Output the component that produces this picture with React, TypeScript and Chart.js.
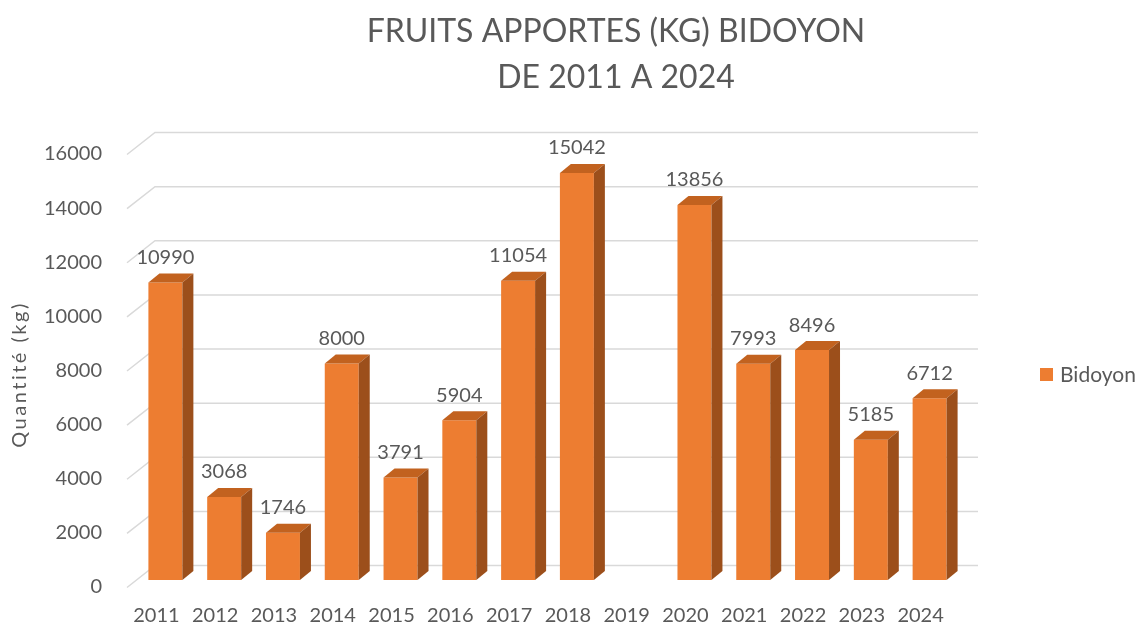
import React, { useEffect, useRef } from 'react';
import { Chart, registerables } from 'chart.js';

Chart.register(...registerables);

// ---- data ----
const categories = ['2011', '2012', '2013', '2014', '2015', '2016', '2017', '2018', '2019', '2020', '2021', '2022', '2023', '2024'];
const seriesName = 'Bidoyon';
const values: (number | null)[] = [10990, 3068, 1746, 8000, 3791, 5904, 11054, 15042, null, 13856, 7993, 8496, 5185, 6712];
const yMin = 0;
const yMax = 16000;
const yStep = 2000;
const titleLines = ['FRUITS APPORTES (KG) BIDOYON', 'DE 2011 A 2024'];
const yAxisTitle = 'Quantité (kg)';

// ---- style ----
const FONT = 'Lato, "Open Sans", sans-serif';
const TEXT = '#595959';
const FRONT = '#ED7D31';
const TOP = '#C2621F';
const SIDE = '#9C4F1B';
const GRID = '#D9D9D9';
const DX = 11;
const DY = -9;
const BACK_DX = 19;
const BACK_DY = -14.5;
const FRONT_DX = -9;
const FRONT_DY = 7.5;

const wallsPlugin = {
  id: 'walls3d',
  beforeDatasetsDraw(chart: any) {
    const { ctx, chartArea, scales } = chart;
    const y = scales.y;
    ctx.save();
    ctx.strokeStyle = GRID;
    ctx.lineWidth = 1.5;
    y.ticks.forEach((t: any) => {
      const py = y.getPixelForValue(t.value);
      ctx.beginPath();
      ctx.moveTo(chartArea.left + FRONT_DX, py + FRONT_DY);
      ctx.lineTo(chartArea.left + BACK_DX, py + BACK_DY);
      ctx.lineTo(chartArea.right + BACK_DX, py + BACK_DY);
      ctx.stroke();
    });
    ctx.restore();
  },
};

const bars3dPlugin = {
  id: 'bars3d',
  afterDatasetsDraw(chart: any) {
    const { ctx } = chart;
    const meta = chart.getDatasetMeta(0);
    ctx.save();
    meta.data.forEach((bar: any, i: number) => {
      const v = values[i];
      if (v === null || v === undefined) return;
      const { x, y, base, width } = bar.getProps(['x', 'y', 'base', 'width'], true);
      const l = x - width / 2;
      const r = x + width / 2;
      ctx.fillStyle = TOP;
      ctx.beginPath();
      ctx.moveTo(l, y);
      ctx.lineTo(l + DX, y + DY);
      ctx.lineTo(r + DX, y + DY);
      ctx.lineTo(r, y);
      ctx.closePath();
      ctx.fill();
      ctx.fillStyle = SIDE;
      ctx.beginPath();
      ctx.moveTo(r, y);
      ctx.lineTo(r + DX, y + DY);
      ctx.lineTo(r + DX, base + DY);
      ctx.lineTo(r, base);
      ctx.closePath();
      ctx.fill();
      ctx.fillStyle = TEXT;
      ctx.font = `20px ${FONT}`;
      ctx.textAlign = 'center';
      ctx.textBaseline = 'middle';
      ctx.fillText(String(v), x, y - 25);
    });
    ctx.restore();
  },
};

const decorPlugin = {
  id: 'decor',
  afterDraw(chart: any) {
    const { ctx, chartArea } = chart;
    ctx.save();
    ctx.fillStyle = TEXT;
    ctx.font = `32px ${FONT}`;
    ctx.textAlign = 'center';
    ctx.textBaseline = 'middle';
    ctx.fillText(titleLines[0], 616, 32);
    ctx.fillText(titleLines[1], 616, 78);
    // legend
    ctx.fillStyle = FRONT;
    ctx.fillRect(1040, 368, 13, 13);
    ctx.fillStyle = TEXT;
    ctx.font = `21px ${FONT}`;
    ctx.textAlign = 'left';
    ctx.fillText(seriesName, 1060, 375);
    ctx.restore();
    // y-axis title
    ctx.save();
    ctx.translate(20, (chartArea.top + chartArea.bottom) / 2 + 11);
    ctx.rotate(-Math.PI / 2);
    ctx.fillStyle = TEXT;
    ctx.font = `20px ${FONT}`;
    (ctx as any).letterSpacing = '2.5px';
    ctx.textAlign = 'center';
    ctx.textBaseline = 'middle';
    ctx.fillText(yAxisTitle, 0, 0);
    ctx.restore();
  },
};

export default function App() {
  const ref = useRef<HTMLCanvasElement | null>(null);
  useEffect(() => {
    if (!ref.current) return;
    const chart = new Chart(ref.current, {
      type: 'bar',
      data: {
        labels: categories,
        datasets: [
          {
            label: seriesName,
            data: values,
            backgroundColor: FRONT,
            borderWidth: 0,
            categoryPercentage: 1,
            barPercentage: 0.578,
          },
        ],
      },
      options: {
        responsive: false,
        animation: false,
        layout: { padding: { left: 0, top: 147, right: 183, bottom: 0 } },
        plugins: {
          legend: { display: false },
          title: { display: false },
          tooltip: { enabled: false },
        },
        scales: {
          x: {
            type: 'category',
            offset: true,
            grid: { display: false, drawTicks: false },
            border: { display: false },
            ticks: {
              color: TEXT,
              font: { family: FONT, size: 20 },
              padding: 24,
              labelOffset: -9,
              maxRotation: 0,
              autoSkip: false,
            },
            afterFit: (s: any) => {
              s.height = 45;
            },
          },
          y: {
            min: yMin,
            max: yMax,
            grid: { display: false, drawTicks: false },
            border: { display: false },
            ticks: {
              stepSize: yStep,
              color: TEXT,
              font: { family: FONT, size: 20 },
              padding: 34,
              labelOffset: 7,
              callback: (v: any) => String(v),
            },
            afterFit: (s: any) => {
              s.width = 136;
            },
          },
        },
      },
      plugins: [wallsPlugin, bars3dPlugin, decorPlugin],
    });
    return () => chart.destroy();
  }, []);
  return (
    <div style={{ position: 'absolute', left: 0, top: 0, width: 1142, height: 626, background: '#fff' }}>
      <canvas ref={ref} width={1142} height={626} style={{ display: 'block' }} />
    </div>
  );
}
